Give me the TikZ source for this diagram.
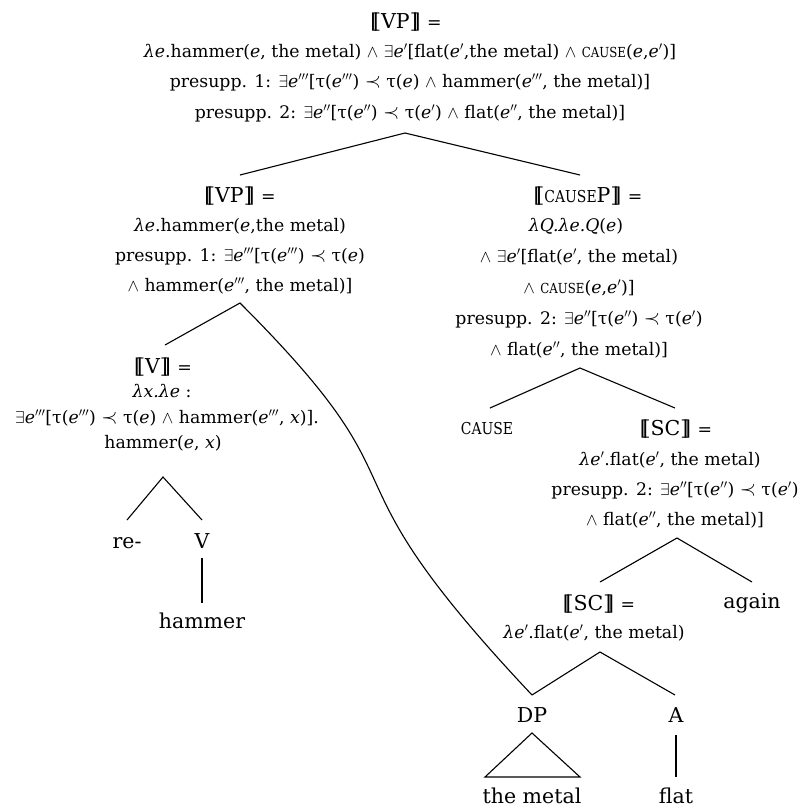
\documentclass[tikz,border=0pt]{standalone}
\usepackage{graphicx}
\usepackage{fontspec}
\setmainfont{DejaVu Serif}
\usetikzlibrary{calc}

% semantic brackets and recurring symbols
\newcommand\sem[1]{[\kern-0.25em[#1]\kern-0.25em]}
\newcommand\sE{\textit{e}}
\newcommand\sEp{\textit{e}$'$}
\newcommand\sEpp{\textit{e}$''$}
\newcommand\sEppp{\textit{e}$'''$}
\newcommand\lam{\textit{λ}}
\newcommand\cse{\scalebox{0.68}[0.8]{CAUSE}}
\newcommand\lex{$\exists$}
\newcommand\lwg{$\wedge$}
\newcommand\lpc{\scalebox{1.2}{$\prec$}}
\newcommand\eqsz{\fontsize{17.3}{20}\selectfont}

\tikzset{
  txt/.style={anchor=base, inner sep=0pt, font=\fontsize{17.3}{20}\selectfont},
  lab/.style={anchor=base, inner sep=0pt, font=\fontsize{20.5}{24}\selectfont},
  branch/.style={line width=1.1pt, line join=miter},
}

\begin{document}
\begin{tikzpicture}[x=1pt, y=-1pt]
\useasboundingbox (0,0) rectangle (806,807);

% root VP
\node[lab] (r1) at (406,28) {\sem{VP} {\eqsz=}};
\node[txt] (r2) at (410,57) {\lam\sE.hammer(\sE, the metal) \lwg{} \lex\sEp[flat(\sEp,the metal) \lwg{} \cse(\sE,\sEp)]};
\node[txt] (r3) at (410,87) {presupp. 1: \lex\sEppp[τ(\sEppp) \lpc{} τ(\sE) \lwg{} hammer(\sEppp, the metal)]};
\node[txt] (r4) at (410,118) {presupp. 2: \lex\sEpp[τ(\sEpp) \lpc{} τ(\sEp) \lwg{} flat(\sEpp, the metal)]};
\coordinate (ra) at (405,133);

% lower VP
\node[lab] (l1) at (240,202) {\sem{VP} {\eqsz=}};
\node[txt] (l2) at (240,231) {\lam\sE.hammer(\sE,the metal)};
\node[txt] (l3) at (240,261) {presupp. 1: \lex\sEppp[τ(\sEppp) \lpc{} τ(\sE)};
\node[txt] (l4) at (240,291) {\lwg{} hammer(\sEppp, the metal)]};
\coordinate (lt) at (240,175);
\coordinate (la) at (240,303);

% CAUSEP
\node[lab] (c1) at (588,202) {\sem{\cse P} {\eqsz=}};
\node[txt] (c2) at (576,231) {\textit{λQ.λe.Q}(\sE)};
\node[txt] (c3) at (579,262) {\lwg{} \lex\sEp[flat(\sEp, the metal)};
\node[txt] (c4) at (579,293) {\lwg{} \cse(\sE,\sEp)]};
\node[txt] (c5) at (579,324) {presupp. 2: \lex\sEpp[τ(\sEpp) \lpc{} τ(\sEp)};
\node[txt] (c6) at (579,355) {\lwg{} flat(\sEpp, the metal)]};
\coordinate (ct) at (580,175);
\coordinate (ca) at (580,368);

% V
\node[lab] (v1) at (163,373) {\sem{V} {\eqsz=}};
\node[txt] (v2) at (162,397) {\textit{λx.λe} :};
\node[txt] (v3) at (167,423) {\lex\sEppp[τ(\sEppp) \lpc{} τ(\sE) \lwg{} hammer(\sEppp, \textit{x})].};
\node[txt] (v4) at (163,448) {hammer(\sE, \textit{x})};
\coordinate (vt) at (165,345);
\coordinate (va) at (163,477);
\node[lab] (re) at (127,548) {re-};
\node[lab] (vv) at (202,548) {V};
\node[lab] (ham) at (202,628) {hammer};
\coordinate (ret) at (127,520);
\coordinate (vvt) at (202,520);
\coordinate (vvb) at (202,558);
\coordinate (hamt) at (202,603);

% CAUSE head
\node[lab] (cz) at (487,434) {\cse};
\coordinate (czt) at (490,408);

% upper SC
\node[lab] (s1) at (676,435) {\sem{SC} {\eqsz=}};
\node[txt] (s2) at (670,465) {\lam\sEp.flat(\sEp, the metal)};
\node[txt] (s3) at (675,495) {presupp. 2: \lex\sEpp[τ(\sEpp) \lpc{} τ(\sEp)};
\node[txt] (s4) at (675,525) {\lwg{} flat(\sEpp, the metal)]};
\coordinate (st) at (675,408);
\coordinate (sa) at (677,538);

% lower SC and again
\node[lab] (q1) at (599,610) {\sem{SC} {\eqsz=}};
\node[txt] (q2) at (594,638) {\lam\sEp.flat(\sEp, the metal)};
\node[lab] (ag) at (752,608) {again};
\coordinate (qt) at (600,582);
\coordinate (agt) at (752,582);
\coordinate (qa) at (600,652);

% DP and A
\node[lab] (dp) at (532,722) {DP};
\node[lab] (aa) at (676,722) {A};
\node[lab] (tm) at (532,803) {the metal};
\node[lab] (fl) at (676,803) {flat};
\coordinate (dpt) at (532,695);
\coordinate (aat) at (675,695);
\coordinate (dpb) at (532,733);
\coordinate (tml) at (485,777);
\coordinate (tmr) at (580,777);
\coordinate (aab) at (676,735);
\coordinate (flt) at (676,777);

% branches
\draw[branch] (lt) -- (ra) -- (ct);
\draw[branch] (vt) -- (la) .. controls (440,503) and (306,455) .. (dpt);
\draw[branch] (czt) -- (ca) -- (st);
\draw[branch] (ret) -- (va) -- (vvt);
\draw[branch] (vvb) -- (hamt);
\draw[branch] (qt) -- (sa) -- (agt);
\draw[branch] (dpt) -- (qa) -- (aat);
\draw[branch] (dpb) -- (tml) -- (tmr) -- cycle;
\draw[branch] (aab) -- (flt);
\end{tikzpicture}
\end{document}
